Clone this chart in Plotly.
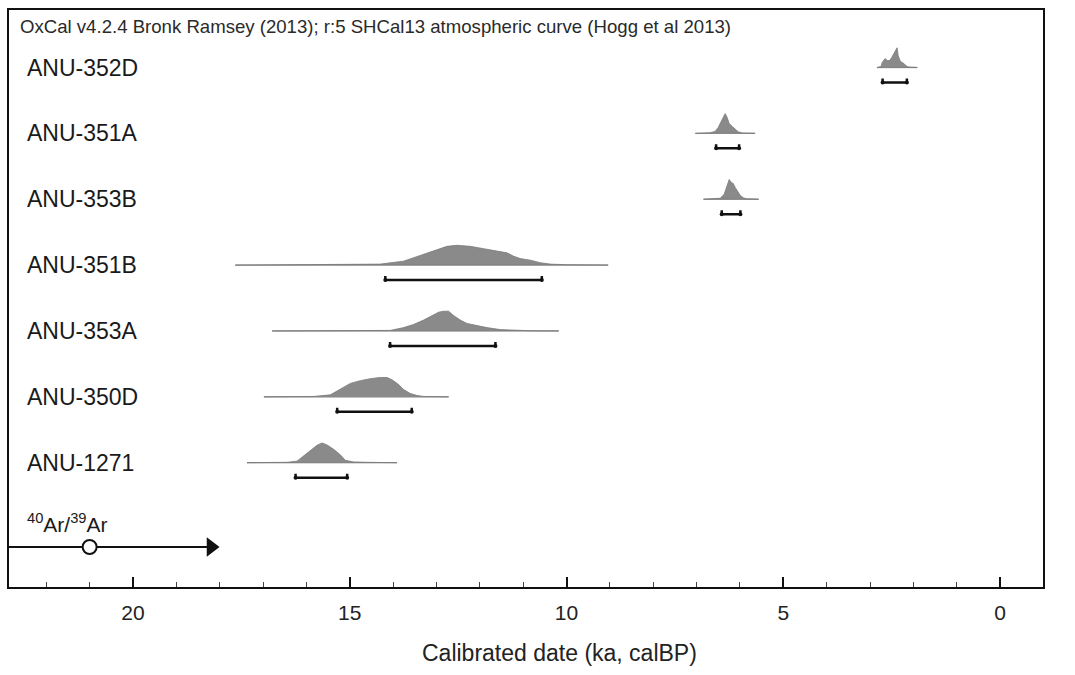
import plotly.graph_objects as go

# ---------------- data (ka, calBP) ----------------
samples = ["ANU-352D", "ANU-351A", "ANU-353B", "ANU-351B", "ANU-353A", "ANU-350D", "ANU-1271"]

# full extent of each calibrated distribution (thin line)
line_start = [2.84, 7.03, 6.84, 17.64, 16.79, 16.98, 17.37]
line_end = [1.91, 5.65, 5.57, 9.04, 10.18, 12.72, 13.91]

# 95.4% ranges (brackets)
range_old = [2.71, 6.55, 6.42, 14.18, 14.07, 15.29, 16.25]
range_young = [2.15, 6.02, 5.99, 10.57, 11.64, 13.57, 15.06]

# probability density outlines (relative to each peak)
dens_x = [
    [2.84, 2.744, 2.72, 2.652, 2.60, 2.55, 2.50, 2.44, 2.40, 2.375, 2.35, 2.30, 2.25, 2.20, 2.144, 2.10, 1.91],
    [7.03, 6.80, 6.687, 6.571, 6.502, 6.433, 6.364, 6.341, 6.295, 6.248, 6.179, 6.110, 6.041, 5.949, 5.65],
    [6.84, 6.60, 6.456, 6.364, 6.295, 6.248, 6.202, 6.156, 6.110, 6.064, 5.995, 5.926, 5.857, 5.57],
    [17.64, 15.0, 14.6, 14.296, 13.758, 13.373, 13.066, 12.758, 12.527, 12.220, 11.913, 11.605, 11.374,
     11.22, 11.068, 10.837, 10.606, 10.376, 10.0, 9.04],
    [16.79, 14.6, 14.065, 13.758, 13.528, 13.297, 13.066, 12.951, 12.836, 12.721, 12.605, 12.451, 12.297,
     12.066, 11.836, 11.529, 11.222, 10.8, 10.18],
    [16.98, 16.2, 15.833, 15.449, 15.294, 15.141, 14.987, 14.757, 14.526, 14.296, 14.142, 14.027, 13.873,
     13.758, 13.604, 13.45, 13.297, 12.72],
    [17.37, 16.8, 16.448, 16.217, 16.064, 15.910, 15.755, 15.64, 15.525, 15.372, 15.218, 15.103, 14.91, 14.6, 13.91],
]
dens_p = [
    [0.0, 0.05, 0.25, 0.45, 0.35, 0.35, 0.50, 0.75, 0.95, 1.0, 0.60, 0.30, 0.25, 0.15, 0.05, 0.02, 0.0],
    [0.0, 0.01, 0.03, 0.10, 0.30, 0.60, 0.90, 1.0, 0.80, 0.50, 0.35, 0.20, 0.08, 0.02, 0.0],
    [0.0, 0.01, 0.05, 0.25, 0.70, 1.0, 0.85, 0.80, 0.60, 0.45, 0.20, 0.08, 0.02, 0.0],
    [0.0, 0.02, 0.03, 0.05, 0.20, 0.50, 0.75, 0.95, 1.0, 0.95, 0.83, 0.72, 0.62,
     0.45, 0.33, 0.25, 0.12, 0.05, 0.02, 0.0],
    [0.0, 0.01, 0.03, 0.17, 0.33, 0.55, 0.80, 0.95, 1.0, 1.0, 0.78, 0.55, 0.38,
     0.27, 0.17, 0.07, 0.03, 0.01, 0.0],
    [0.0, 0.01, 0.02, 0.10, 0.30, 0.50, 0.68, 0.82, 0.92, 0.98, 0.98, 0.87, 0.62,
     0.37, 0.17, 0.07, 0.02, 0.0],
    [0.0, 0.01, 0.02, 0.08, 0.33, 0.62, 0.88, 1.0, 0.90, 0.68, 0.40, 0.12, 0.04, 0.02, 0.0],
]

ar_label = "<sup>40</sup>Ar/<sup>39</sup>Ar"
ar_date = 21.0          # open circle
ar_arrow_tip = 18.2     # arrowhead (younger limit)

header = "OxCal v4.2.4 Bronk Ramsey (2013); r:5 SHCal13 atmospheric curve (Hogg et al 2013)"
x_title = "Calibrated date (ka, calBP)"
x_ticks = [0, 5, 10, 15, 20]

# ---------------- style ----------------
X_RANGE = [22.86, -0.99]
Y_RANGE = [7.887, -0.873]
PEAK_H = 0.30      # peak height in row units
BR_OFF = 0.227     # bracket offset below baseline
BR_CAP = 0.06
FONT = "Liberation Sans, Arial, Helvetica, sans-serif"
FILL = "#8a8a8a"

fig = go.Figure()

for i, name in enumerate(samples):
    # thin full-extent line
    fig.add_trace(go.Scatter(
        x=[line_start[i], line_end[i]], y=[i, i], mode="lines",
        line=dict(color="#b8b8b8", width=1.3), hoverinfo="skip", showlegend=False))
    # density
    xs = dens_x[i]
    ys = [i - p * PEAK_H for p in dens_p[i]]
    fig.add_trace(go.Scatter(
        x=xs + [xs[-1], xs[0]], y=ys + [i, i], mode="lines", fill="toself",
        fillcolor=FILL, line=dict(color="#7a7a7a", width=0.8),
        hoverinfo="skip", showlegend=False))
    # 95.4% range bracket
    yb = i + BR_OFF
    fig.add_trace(go.Scatter(
        x=[range_old[i], range_old[i], range_young[i], range_young[i]],
        y=[yb - BR_CAP, yb, yb, yb - BR_CAP], mode="lines",
        line=dict(color="#111111", width=2.5), hoverinfo="skip", showlegend=False))
    fig.add_trace(go.Scatter(
        x=[range_old[i], range_young[i]], y=[yb, yb], mode="markers",
        marker=dict(color="#111111", size=4), hoverinfo="skip", showlegend=False))
    fig.add_annotation(x=22.49, y=i, xref="x", yref="y", text=name, showarrow=False,
                       xanchor="left", yanchor="middle",
                       font=dict(family=FONT, size=23, color="#1a1a1a"))

# Ar/Ar arrow row
AR_Y = 7.28
fig.add_trace(go.Scatter(
    x=[X_RANGE[0], ar_arrow_tip], y=[AR_Y, AR_Y], mode="lines",
    line=dict(color="#111111", width=2), hoverinfo="skip", showlegend=False))
fig.add_trace(go.Scatter(
    x=[ar_arrow_tip], y=[AR_Y], mode="markers",
    marker=dict(symbol="triangle-right", size=17, color="#111111"),
    hoverinfo="skip", showlegend=False))
fig.add_trace(go.Scatter(
    x=[ar_date], y=[AR_Y], mode="markers",
    marker=dict(symbol="circle", size=14, color="white", line=dict(color="#111111", width=2)),
    hoverinfo="skip", showlegend=False))
fig.add_annotation(x=22.49, y=6.92, xref="x", yref="y", text=ar_label, showarrow=False,
                   xanchor="left", yanchor="middle",
                   font=dict(family=FONT, size=21, color="#1a1a1a"))

# header
fig.add_annotation(x=0.0087, y=0.972, xref="paper", yref="paper", text=header, showarrow=False,
                   xanchor="left", yanchor="middle",
                   font=dict(family=FONT, size=18.6, color="#2a2a2a"))

# x-axis title (placed slightly right of plot centre, as in the original)
fig.add_annotation(x=0.532, y=-0.115, xref="paper", yref="paper", text=x_title, showarrow=False,
                   xanchor="center", yanchor="middle",
                   font=dict(family=FONT, size=23, color="#222222"))

fig.update_layout(
    width=1075, height=675,
    margin=dict(l=9, r=32, t=8, b=88),
    paper_bgcolor="white", plot_bgcolor="white",
    showlegend=False,
    font=dict(family=FONT, color="#222222"),
)
fig.update_xaxes(
    range=X_RANGE, tickvals=x_ticks, ticktext=[str(v) for v in x_ticks],
    ticks="inside", ticklen=10, tickwidth=1.5, tickcolor="#111111",
    minor=dict(dtick=1, tick0=0, ticks="inside", ticklen=5, tickwidth=1, tickcolor="#444444"),
    showline=True, mirror=True, linecolor="#111111", linewidth=2,
    showgrid=False, zeroline=False,
    ticklabelstandoff=6,
    tickfont=dict(family=FONT, size=21, color="#222222"),
)
fig.update_yaxes(
    range=Y_RANGE, showticklabels=False, ticks="",
    showline=True, mirror=True, linecolor="#111111", linewidth=2,
    showgrid=False, zeroline=False,
)

fig.write_html("out.html")
